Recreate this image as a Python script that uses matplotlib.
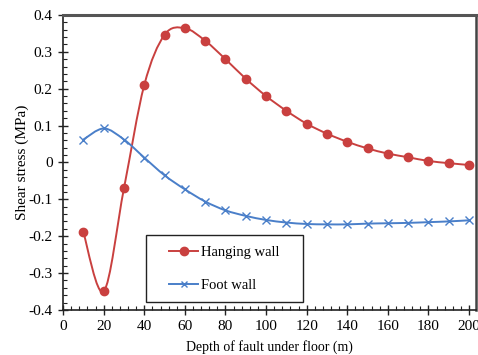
import numpy as np
import matplotlib
matplotlib.use('Agg')
import matplotlib.pyplot as plt
from matplotlib.path import Path
from matplotlib.patches import PathPatch, Rectangle
from matplotlib.ticker import MultipleLocator

plt.rcParams['font.family'] = ['Liberation Serif', 'DejaVu Serif']

depth = [10, 20, 30, 40, 50, 60, 70, 80, 90, 100,
         110, 120, 130, 140, 150, 160, 170, 180, 190, 200]
hanging = [-0.19, -0.35, -0.07, 0.21, 0.346, 0.364, 0.330, 0.280, 0.227, 0.180,
           0.140, 0.105, 0.078, 0.056, 0.038, 0.024, 0.014, 0.004, -0.002, -0.007]
foot = [0.062, 0.092, 0.062, 0.013, -0.035, -0.073, -0.106, -0.130, -0.145, -0.156,
        -0.163, -0.167, -0.168, -0.168, -0.166, -0.165, -0.164, -0.162, -0.160, -0.157]

red = '#c9403f'
blue = '#4a7fc9'


def smooth_path(x, y):
    # excel style smoothed line as cubic bezier segments
    pts = np.column_stack([np.asarray(x, float), np.asarray(y, float)])
    verts = [pts[0]]
    codes = [Path.MOVETO]
    n = len(pts)
    for i in range(n - 1):
        p0 = pts[i - 1] if i > 0 else pts[i]
        p1 = pts[i]
        p2 = pts[i + 1]
        p3 = pts[i + 2] if i + 2 < n else pts[i + 1]
        verts += [p1 + (p2 - p0) / 6.0, p2 - (p3 - p1) / 6.0, p2]
        codes += [Path.CURVE4] * 3
    return Path(verts, codes)


fig = plt.figure(figsize=(4.78, 3.55), dpi=100)
ax = fig.add_axes([0.132, 0.127, 0.864, 0.831])

ax.add_patch(PathPatch(smooth_path(depth, hanging), fc='none', ec=red, lw=1.4))
ax.add_patch(PathPatch(smooth_path(depth, foot), fc='none', ec=blue, lw=1.4))
ax.plot(depth, hanging, ls='none', marker='o', ms=6, color=red)
ax.plot(depth, foot, ls='none', marker='x', ms=6, mew=1.0, color=blue)

# legend handles
ax.plot([], [], color=red, lw=1.4, marker='o', ms=6, label='Hanging wall')
ax.plot([], [], color=blue, lw=1.4, marker='x', ms=5, label='Foot wall')

ax.set_xlim(0, 203.5)
ax.set_ylim(-0.4, 0.4)
ax.xaxis.set_major_locator(MultipleLocator(20))
ax.xaxis.set_minor_locator(MultipleLocator(4))
ax.yaxis.set_minor_locator(MultipleLocator(0.02))
ax.set_yticks(np.arange(-0.4, 0.41, 0.1))
ax.set_yticklabels(['-0.4', '-0.3', '-0.2', '-0.1', '0', '0.1', '0.2', '0.3', '0.4'])

ax.tick_params(which='major', direction='inout', length=7, width=1, labelsize=11, color='#222222')
ax.tick_params(which='minor', direction='in', length=3, width=0.8, color='#222222')
ax.tick_params(axis='x', pad=4)
ax.tick_params(axis='y', pad=4)

for s in ['left', 'bottom']:
    ax.spines[s].set_color('#222222')
    ax.spines[s].set_linewidth(1.2)
ax.spines['top'].set_color('#555555')
ax.spines['top'].set_linewidth(2.2)
ax.spines['right'].set_color('#444444')
ax.spines['right'].set_linewidth(1.8)

ax.set_xlabel('Depth of fault under floor (m)', fontsize=10, labelpad=5)
ax.set_ylabel('Shear stress (MPa)', fontsize=11, labelpad=0)

# legend box like excel (wider than its content)
ax.add_patch(Rectangle((0.201, 0.027), 0.380, 0.227, transform=ax.transAxes,
                       fc='white', ec='#222222', lw=1.0, zorder=4))
leg = ax.legend(loc='center', bbox_to_anchor=(0.391, 0.138), fontsize=10.5,
                frameon=False, labelspacing=1.35, handlelength=2.0,
                borderpad=0.3, handletextpad=0.2)
leg.set_zorder(5)

plt.savefig('out.png', dpi=100)
